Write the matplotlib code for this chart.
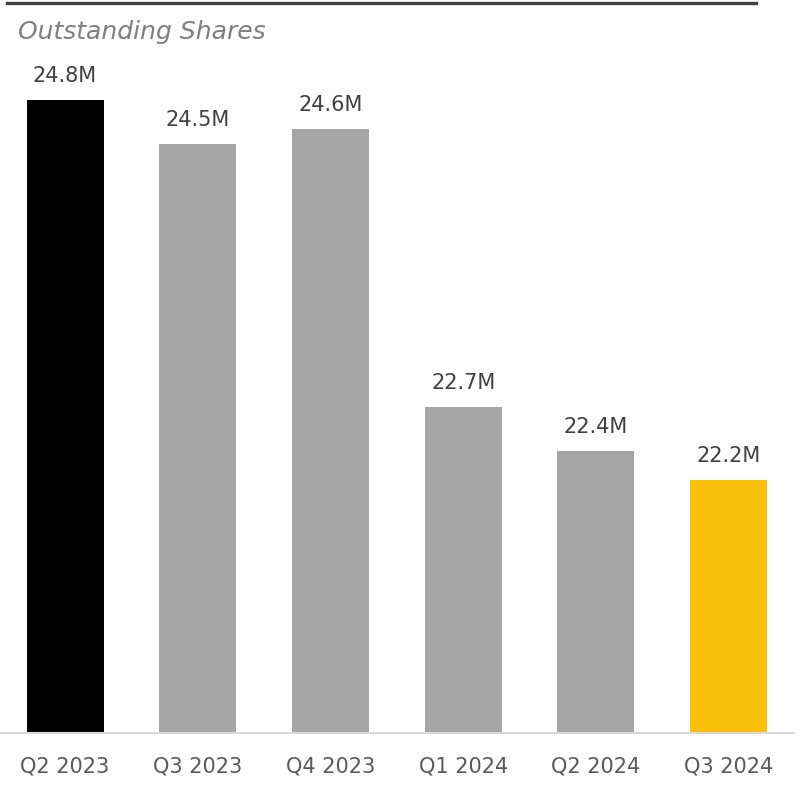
import matplotlib
matplotlib.use("Agg")
import matplotlib.pyplot as plt
from matplotlib.lines import Line2D

# Outstanding shares by quarter (millions)
quarters = ["Q2 2023", "Q3 2023", "Q4 2023", "Q1 2024", "Q2 2024", "Q3 2024"]
shares_m = [24.8, 24.5, 24.6, 22.7, 22.4, 22.2]
bar_colors = ["#000000", "#A5A5A5", "#A5A5A5", "#A5A5A5", "#A5A5A5", "#FBC00A"]

plt.rcParams["font.family"] = ["DejaVu Sans"]

W, H = 795, 786
fig = plt.figure(figsize=(W / 100, H / 100), dpi=100)

ax_bottom_px = 733
ax_top_px = 60
ax = fig.add_axes([0.0, (H - ax_bottom_px) / H, 1.0, (ax_bottom_px - ax_top_px) / H])

x = list(range(len(quarters)))
ax.bar(x, shares_m, width=0.58, color=bar_colors, zorder=2)

ymin = 20.47
px_per_unit = 146.2
ax.set_ylim(ymin, ymin + (ax_bottom_px - ax_top_px) / px_per_unit)
ax.set_xlim(-0.49, len(quarters) - 0.5)

for xi, v in zip(x, shares_m):
    ax.annotate(f"{v:.1f}M", (xi, v), xytext=(0, 10), textcoords="offset points",
                ha="center", va="bottom", fontsize=15, color="#404040")

ax.set_xticks(x)
ax.set_xticklabels(quarters, fontsize=15, color="#595959")
ax.tick_params(axis="x", length=0, pad=17)
ax.set_yticks([])
for side in ("top", "right", "left"):
    ax.spines[side].set_visible(False)
ax.spines["bottom"].set_color("#D9D9D9")
ax.spines["bottom"].set_linewidth(1.5)

# Header rule and title
fig.add_artist(Line2D([7 / W, 756 / W], [1 - 2.5 / H, 1 - 2.5 / H],
                      color="#404040", linewidth=2.4, transform=fig.transFigure))
fig.text(18 / W, 1 - 32 / H, "Outstanding Shares", fontsize=18, style="italic",
         color="#7F7F7F", ha="left", va="center")

fig.savefig("out.png", dpi=100)
